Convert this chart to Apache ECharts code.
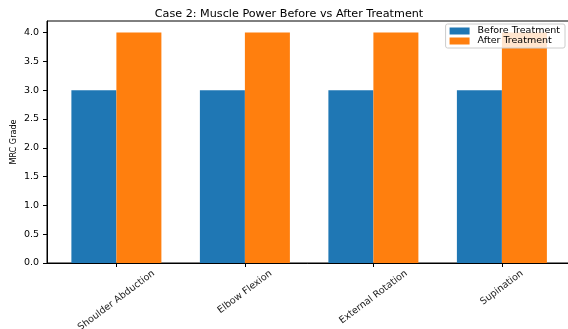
<!DOCTYPE html>
<html><head><meta charset="utf-8">
<script src="https://cdn.jsdelivr.net/npm/echarts@6/dist/echarts.min.js"></script>
<style>html,body{margin:0;padding:0;background:#fff}#c{width:568px;height:329px}</style>
</head><body><div id="c"></div>
<script>
const title = 'Case 2: Muscle Power Before vs After Treatment';
const categories = ['Shoulder Abduction', 'Elbow Flexion', 'External Rotation', 'Supination'];
const beforeValues = [3, 3, 3, 3];
const afterValues = [4, 4, 4, 4];
const seriesNames = ['Before Treatment', 'After Treatment'];
const yTicks = [0, 0.5, 1, 1.5, 2, 2.5, 3, 3.5, 4];

const font = 'DejaVu Sans';
const xLabelSize = 9.5;
const xLabelLH = 11;
const xRotate = 37;
// center each rotated label horizontally on its tick and align their tops
const mctx = document.createElement('canvas').getContext('2d');
mctx.font = xLabelSize + 'px "' + font + '"';
const widths = categories.map(t => mctx.measureText(t).width);
const Lmax = Math.max(...widths);
const sn = Math.sin(xRotate * Math.PI / 180), cs = Math.cos(xRotate * Math.PI / 180);
const rich = {};
categories.forEach((t, i) => {
  const dL = Lmax - widths[i];
  rich['l' + i] = {fontFamily: font, fontSize: xLabelSize, lineHeight: xLabelLH, color: '#222',
    padding: [0, 0, sn * cs * dL, sn * sn * dL]};
});
const labelMargin = 5 + (Lmax * sn + xLabelLH * cs) / 2;

const chart = echarts.init(document.getElementById('c'), null, {renderer: 'canvas'});
const idx = categories.map((_, i) => i);
chart.setOption({
  animation: false,
  textStyle: {fontFamily: font},
  title: {text: title, left: 284, top: 4, textAlign: 'center',
    textStyle: {fontFamily: font, fontSize: 11.2, fontWeight: 'normal', color: '#000'}},
  legend: {
    data: seriesNames, right: 3, top: 24, orient: 'vertical', itemGap: 0,
    itemWidth: 20, itemHeight: 7, padding: [2, 5, 2, 4],
    borderColor: '#ccc', borderWidth: 1, borderRadius: 2, backgroundColor: 'rgba(255,255,255,0.8)',
    textStyle: {fontFamily: font, fontSize: 9.5, color: '#000', padding: [0, 0, 0, 3]}, icon: 'rect'
  },
  grid: {left: 47, right: -2, top: 21, bottom: 66, show: true, borderColor: '#000', borderWidth: 1,
    containLabel: false, outerBoundsMode: 'none'},
  xAxis: {
    type: 'value', min: -0.54, max: 3.53,
    axisLine: {show: true, onZero: false, lineStyle: {color: '#000'}},
    splitLine: {show: false},
    axisTick: {show: true, customValues: idx, length: 4, lineStyle: {color: '#000'}},
    axisLabel: {customValues: idx, rotate: xRotate, align: 'center', verticalAlign: 'middle',
      margin: labelMargin, rich: rich, hideOverlap: false,
      formatter: v => { const i = Math.round(v); return '{l' + i + '|' + categories[i] + '}'; }}
  },
  yAxis: {
    type: 'value', min: 0, max: 4.2, name: 'MRC Grade', nameLocation: 'middle', nameGap: 29,
    nameMoveOverlap: false,
    nameTextStyle: {fontFamily: 'DejaVu Sans Condensed', fontSize: 9, color: '#000'},
    axisLine: {show: true, onZero: false, lineStyle: {color: '#000'}},
    splitLine: {show: false},
    axisTick: {show: true, customValues: yTicks, length: 4, lineStyle: {color: '#000'}},
    axisLabel: {customValues: yTicks, fontSize: 9.5, color: '#000', margin: 8, formatter: v => v.toFixed(1)}
  },
  series: [
    {name: seriesNames[0], type: 'bar', data: beforeValues.map((v, i) => [i, v]), barWidth: 45, barGap: '0%', itemStyle: {color: '#1f77b4'}},
    {name: seriesNames[1], type: 'bar', data: afterValues.map((v, i) => [i, v]), barWidth: 45, barGap: '0%', itemStyle: {color: '#ff7f0e'}}
  ]
});
</script></body></html>
